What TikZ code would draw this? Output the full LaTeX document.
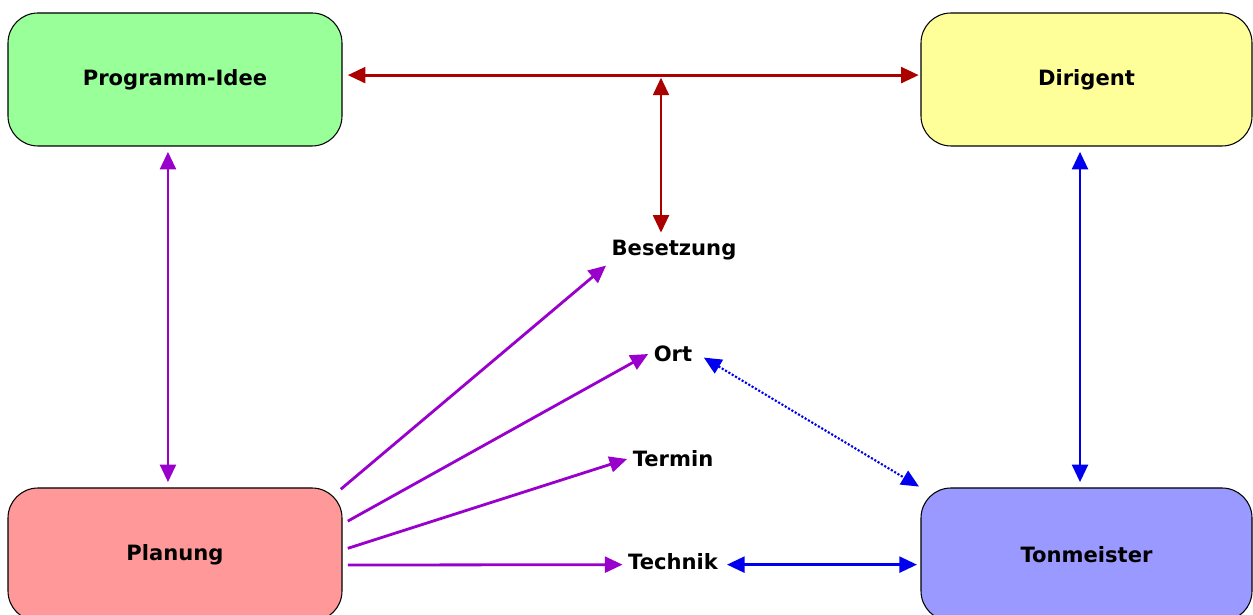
\documentclass[tikz,border=0pt]{standalone}
\usepackage{fontspec}
\setmainfont{DejaVu Sans}
\usetikzlibrary{arrows.meta,calc}
\definecolor{ideegruen}{HTML}{99FF99}
\definecolor{dirigelb}{HTML}{FFFF99}
\definecolor{planrot}{HTML}{FF9999}
\definecolor{tonblau}{HTML}{9999FF}
\definecolor{pfeilrot}{HTML}{AA0000}
\definecolor{pfeillila}{HTML}{9900CC}
\definecolor{pfeilblau}{HTML}{0000EE}
\begin{document}
\begin{tikzpicture}[
    font=\fontsize{12}{14}\selectfont\bfseries,
    kasten/.style={draw, line width=0.6pt, rounded corners=0.6cm,
        minimum width=6.68cm, minimum height=2.66cm},
    etikett/.style={inner sep=3pt},
    pfeil/.style={line width=1.6pt, -{Triangle[length=10pt,width=9pt]}},
    doppelpfeil/.style={line width=1.6pt, {Triangle[length=10pt,width=9pt]}-{Triangle[length=10pt,width=9pt]}}
]
    \useasboundingbox (0,0) rectangle (25.06,12.3);
    % die vier Kästen
    \node[kasten, fill=ideegruen] (idee) at (3.5,10.71) {Programm-Idee};
    \node[kasten, fill=dirigelb, minimum width=6.62cm] (dirigent) at (21.73,10.71) {Dirigent};
    \node[kasten, fill=planrot] (planung) at (3.5,1.21) {Planung};
    \node[kasten, fill=tonblau, minimum width=6.62cm] (tonmeister) at (21.73,1.21) {Tonmeister};
    % die Stichworte in der Mitte
    \node[etikett] (besetzung) at (13.48,7.3) {Besetzung};
    \node[etikett] (ort) at (13.46,5.22) {Ort};
    \node[etikett] (termin) at (13.46,3.12) {Termin};
    \node[etikett] (technik) at (13.46,1.06) {Technik};
    \coordinate (kreuz) at (13.22,10.8);

    \draw[doppelpfeil, pfeilrot, shorten <=3pt, shorten >=1pt]
        ([yshift=2.5pt]idee.east) -- ([yshift=2.5pt]dirigent.west);
    \draw[doppelpfeil, pfeilrot, shorten <=1.5pt, shorten >=1pt]
        (kreuz) -- (kreuz |- besetzung.north);
    \draw[doppelpfeil, pfeillila, shorten <=3pt, shorten >=3pt]
        ([xshift=-4pt]idee.south) -- ([xshift=-4pt]planung.north);
    \draw[doppelpfeil, pfeilblau, shorten <=3pt, shorten >=3pt]
        ([xshift=-3.7pt]dirigent.south) -- ([xshift=-3.7pt]tonmeister.north);

    % von der Planung zu den Stichworten
    \draw[pfeil, pfeillila] ([xshift=-1pt,yshift=-1pt]planung.north east) -- (besetzung.south west);
    \draw[pfeil, pfeillila] ([xshift=3pt,yshift=19pt]planung.east) -- (ort.west);
    \draw[pfeil, pfeillila] ([xshift=3pt,yshift=3.5pt]planung.east) -- (termin.west);
    \draw[pfeil, pfeillila] ([xshift=3pt,yshift=-6pt]planung.east) -- ([yshift=-1.5pt]technik.west);

    \draw[doppelpfeil, pfeilblau, shorten <=2pt, shorten >=2pt]
        ([yshift=-1.5pt]technik.east) -- ([yshift=-1.5pt]technik.east -| tonmeister.west);
    \draw[doppelpfeil, pfeilblau, line width=1.2pt, densely dotted, shorten <=4pt, shorten >=1pt]
        (ort.east) -- (tonmeister.north west);
\end{tikzpicture}
\end{document}
